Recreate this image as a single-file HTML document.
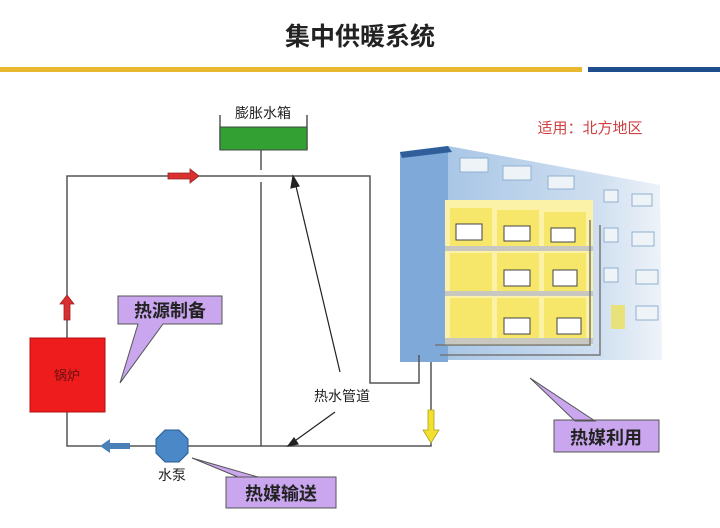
<!DOCTYPE html>
<html><head><meta charset="utf-8"><style>
html,body{margin:0;padding:0;background:#fff;}
svg{display:block;font-family:"Liberation Sans","Noto Sans CJK SC",sans-serif;}
</style></head><body>
<svg width="720" height="528" viewBox="0 0 720 528" xmlns="http://www.w3.org/2000/svg">
<defs>
<linearGradient id="fac" x1="0" y1="0" x2="1" y2="0">
<stop offset="0" stop-color="#a9c6e6"/><stop offset="0.7" stop-color="#cfdff0"/><stop offset="1" stop-color="#eef3f9"/>
</linearGradient>
</defs>
<text x="360" y="45" font-size="25" font-weight="bold" text-anchor="middle" fill="#222">集中供暖系统</text>
<rect x="0" y="67" width="582" height="5" fill="#e8b930"/>
<rect x="588" y="67" width="132" height="5" fill="#1f4e8c"/>

<!-- building -->
<polygon points="448,146 660,185 662,360 448,360" fill="url(#fac)"/>
<polygon points="400,152 448,146 448,362 400,362" fill="#7ea9d8"/>
<polygon points="400,152 448,146 452,152 402,158" fill="#2f5e9a"/>
<g fill="#eef3f8" stroke="#8fb0d0" stroke-width="1">
<rect x="460" y="158" width="28" height="14"/><rect x="503" y="166" width="28" height="14"/><rect x="548" y="176" width="26" height="13"/>
<rect x="604" y="190" width="14" height="12"/><rect x="632" y="194" width="20" height="12"/>
<rect x="604" y="228" width="14" height="14"/><rect x="632" y="232" width="22" height="14"/>
<rect x="604" y="268" width="14" height="14"/><rect x="636" y="270" width="22" height="14"/>
<rect x="636" y="306" width="22" height="14"/>
</g>
<rect x="611" y="305" width="14" height="24" fill="#e8e27a"/>
<rect x="445" y="200" width="148" height="145" fill="#fbf2a8"/>
<g fill="#f6e66a">
<rect x="450" y="208" width="42" height="38"/><rect x="497" y="210" width="42" height="36"/><rect x="544" y="212" width="42" height="34"/>
<rect x="450" y="253" width="42" height="38"/><rect x="497" y="253" width="42" height="38"/><rect x="544" y="253" width="42" height="38"/>
<rect x="450" y="298" width="42" height="40"/><rect x="497" y="298" width="42" height="40"/><rect x="544" y="298" width="42" height="40"/>
</g>
<g fill="#c8c8c0"><rect x="445" y="246" width="148" height="5"/><rect x="445" y="291" width="148" height="5"/><rect x="445" y="338" width="148" height="6"/></g>
<g fill="#fff" stroke="#444" stroke-width="1">
<rect x="456" y="224" width="26" height="16"/><rect x="504" y="226" width="26" height="15"/><rect x="551" y="228" width="24" height="14"/>
<rect x="504" y="270" width="26" height="16"/><rect x="553" y="270" width="24" height="16"/>
<rect x="504" y="318" width="26" height="16"/><rect x="557" y="318" width="24" height="16"/>
</g>
<g stroke="#777" stroke-width="1.5" fill="none">
<path d="M590,220 V345 H435"/><path d="M600,225 V355 H440"/>
</g>

<text x="590" y="133" font-size="15" fill="#d04040" text-anchor="middle">适用：北方地区</text>

<!-- pipes -->
<g stroke="#555" stroke-width="1.5" fill="none">
<path d="M67,338 V176 H370 V383 H419 V355"/>
<path d="M67,412 V446 H431 V362"/>
<line x1="261" y1="150" x2="261" y2="170"/><line x1="261" y1="182" x2="261" y2="446"/>
<line x1="220" y1="115" x2="220" y2="150"/><line x1="307" y1="115" x2="307" y2="150"/>
</g>
<rect x="220" y="127" width="87" height="23" fill="#33a033" stroke="#444" stroke-width="1"/>
<text x="263" y="118" font-size="14" text-anchor="middle" fill="#222">膨胀水箱</text>

<!-- arrows -->
<polygon points="168,173 190,173 190,169 199,176 190,183 190,179 168,179" fill="#d83030" stroke="#a02020" stroke-width="0.8"/>
<polygon points="64,320 64,304 60,304 67,295 74,304 70,304 70,320" fill="#d83030" stroke="#a02020" stroke-width="0.8"/>
<polygon points="130,443 110,443 110,439 100,446 110,453 110,449 130,449" fill="#4a80b8"/>
<polygon points="428,410 434,410 434,430 439,430 431,443 423,430 428,430" fill="#f2e030" stroke="#b0a020" stroke-width="0.8"/>
<rect x="30" y="338" width="75" height="74" fill="#ee1c1c" stroke="#b01010"/>
<text x="67" y="380" font-size="13" text-anchor="middle" fill="#6a1010">锅炉</text>
<polygon points="165,430 179,430 188,439 188,453 179,462 165,462 156,453 156,439" fill="#4a88c8" stroke="#2a5a90"/>
<text x="172" y="480" font-size="14" text-anchor="middle" fill="#222">水泵</text>

<g stroke="#222" stroke-width="1.2" fill="#222">
<line x1="340" y1="372" x2="295" y2="182"/><polygon points="293,176 291,188 299,186"/>
<line x1="335" y1="412" x2="292" y2="443"/><polygon points="288,446 298,444 294,438"/>
</g>
<text x="342" y="401" font-size="14" text-anchor="middle" fill="#222">热水管道</text>

<!-- callouts -->
<g fill="#c9a6ee" stroke="#555" stroke-width="1">
<path d="M118,296 H222 V324 H163 L120,383 L138,324 H118 Z"/>
<path d="M226,477 H336 V508 H226 V477 L238,477 L192,458 L258,477 Z"/>
<path d="M554,420 H659 V452 H554 Z M595,421 L530,378 L575,421 Z"/>
</g>
<g font-size="18" font-weight="bold" fill="#222" text-anchor="middle">
<text x="170" y="317">热源制备</text>
<text x="281" y="500">热媒输送</text>
<text x="606" y="444">热媒利用</text>
</g>
</svg>
</body></html>
